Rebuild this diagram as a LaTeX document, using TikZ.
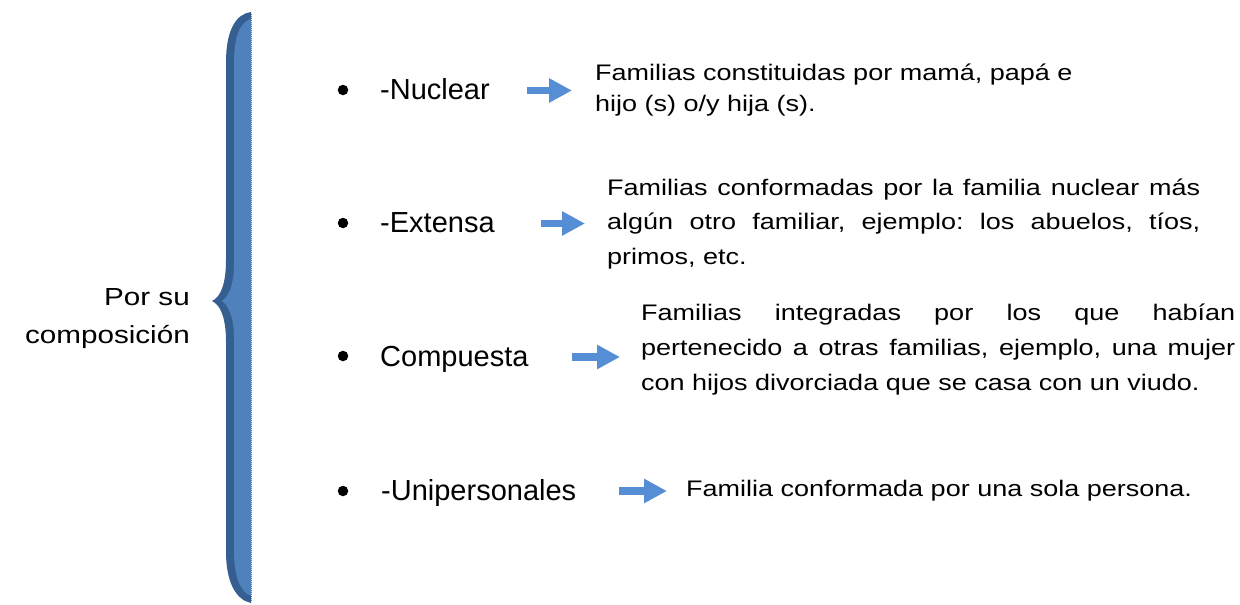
\documentclass[tikz,border=0pt]{standalone}
\usepackage{fontspec}
\setmainfont{Liberation Sans}
\newfontfamily\descfont{Liberation Sans}[FakeStretch=1.2]
\newfontfamily\titfont{Liberation Sans}[FakeStretch=1.2]
\usetikzlibrary{arrows.meta}
\definecolor{azul}{RGB}{85,142,213}
\definecolor{llaveosc}{RGB}{54,95,145}
\definecolor{llaveclr}{RGB}{79,129,189}
\hbadness=10000
\frenchspacing
\tikzset{
	fam_tit/.style = {inner sep=0pt, align=right,
		font=\titfont\fontsize{24.7}{38}\selectfont},% titulo
	fam_it/.style = {inner sep=0pt, anchor=base west,
		font=\fontsize{29}{34}\selectfont},% tipo de familia
	fam_bul/.style = {circle, fill=black, inner sep=0pt,
		minimum size=10.5pt},% vineta
	fam_d/.style = {inner sep=0pt, anchor=base west,
		font=\descfont\fontsize{22.5}{35}\selectfont},% descripcion
	fam_dj/.style = {fam_d, text width=594pt, align=justify},% descripcion justificada
	fam_fl/.style = {azul, line width=7.7pt,
		-{Triangle[length=23pt,width=23pt]}}% flecha
}

\begin{document}
\begin{tikzpicture}[x=1pt,y=-1pt]
	\useasboundingbox (0,0) rectangle (1240,605);
	% llave
	\fill[llaveosc] (251,12) .. controls (236,14) and (226,30) .. (226,62)
		-- (226,260) .. controls (226,283) and (221,297) .. (212,301)
		.. controls (221,305) and (226,319) .. (226,342)
		-- (226,552) .. controls (226,582) and (236,600) .. (251,603) -- cycle;
	\fill[llaveclr] (251,19) .. controls (240,22) and (234,36) .. (234,64)
		-- (234,264) .. controls (234,284) and (229,296) .. (222,301)
		.. controls (229,306) and (234,318) .. (234,338)
		-- (234,550) .. controls (234,576) and (240,592) .. (251,596) -- cycle;
	\draw[gray, densely dotted, line width=1pt] (251,14) -- (251,602);
	\node[fam_tit, anchor=base east] (tit) at (190,343) {Por su\\composición};

	\node[fam_bul] (b_nuc) at (343,90) {};
	\node[fam_it] (nuc) at (380,99) {-Nuclear};
	\node[fam_d, align=left, font=\descfont\fontsize{22.5}{30.5}\selectfont]
		(nuc_d) at (595,111) {Familias constituidas por mamá, papá e\\hijo (s) o/y hija (s).};
	\draw[fam_fl, shorten <=37pt, shorten >=23pt]
		([yshift=8.5pt]nuc.base east) -- ([yshift=8.5pt]nuc.base east -| nuc_d.west);

	\node[fam_bul] (b_ext) at (343,223) {};
	\node[fam_it] (ext) at (380,232) {-Extensa};
	\node[fam_dj, text width=593pt, font=\descfont\fontsize{22.5}{34.5}\selectfont]
		(ext_d) at (607,195) {Familias conformadas por la familia nuclear más\linebreak
		algún otro familiar, ejemplo: los abuelos, tíos,\linebreak primos, etc.};
	\draw[fam_fl, shorten <=46pt, shorten >=22pt]
		([yshift=8.5pt]ext.base east) -- ([yshift=8.5pt]ext.base east -| ext_d.west);

	\node[fam_bul] (b_com) at (343,356) {};
	\node[fam_it] (com) at (380,366) {Compuesta};
	\node[fam_dj] (com_d) at (641,320) {Familias integradas por los que habían\linebreak
		pertenecido a otras familias, ejemplo, una mujer\linebreak
		con hijos divorciada que se casa con un viudo.};
	\draw[fam_fl, shorten <=43pt, shorten >=21pt]
		([yshift=9pt]com.base east) -- ([yshift=9pt]com.base east -| com_d.west);

	\node[fam_bul] (b_uni) at (343,491) {};
	\node[fam_it] (uni) at (381,500) {-Unipersonales};
	\node[fam_d] (uni_d) at (686,496) {Familia conformada por una sola persona.};
	\draw[fam_fl, shorten <=43pt, shorten >=19pt]
		([yshift=9pt]uni.base east) -- ([yshift=9pt]uni.base east -| uni_d.west);
\end{tikzpicture}
\end{document}
